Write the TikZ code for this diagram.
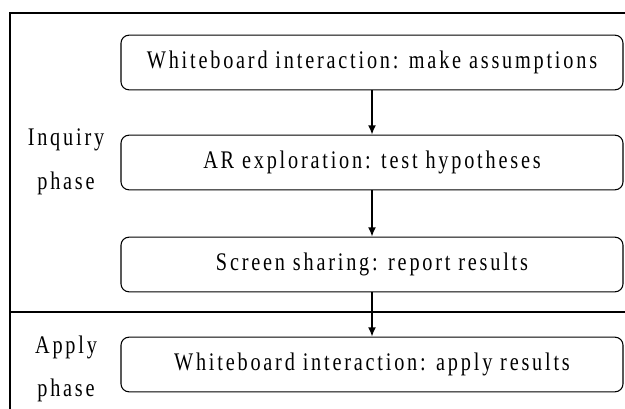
\documentclass[tikz,border=0pt]{standalone}
\usepackage{fontspec}
\setmainfont{Liberation Serif}[FakeStretch=0.8,LetterSpace=11]
\usepackage{tikz}
\usetikzlibrary{positioning,arrows.meta}

\tikzset{
    stage/.style={draw, line width=0.8pt, rounded corners=6pt, minimum width=376.5pt, minimum height=41pt, font=\fontsize{19}{21}\selectfont},
    phase/.style={font=\fontsize{19}{21}\selectfont},
}

\begin{document}
\begin{tikzpicture}[x=0.75pt,y=-0.75pt]
        \useasboundingbox (0,0) rectangle (625,409);
        % frame and divider
        \draw[line width=0.9pt] (625,13) -| (10,409);
        \draw[line width=0.9pt] (10,312) -- (625,312);

        \node[stage] (assume) at (372,62.5) {Whiteboard interaction: make assumptions};
        \node[stage] (explore) at (372,162.5) {AR exploration: test hypotheses};
        \node[stage] (report) at (372,264.5) {Screen sharing: report results};
        \node[stage] (apply) at (372,364.5) {Whiteboard interaction: apply results};

        \node[phase] (inq1) at (66,140) {Inquiry};
        \node[phase] (inq2) at (66,183) {phase};
        \node[phase] (app1) at (66,347) {Apply};
        \node[phase] (app2) at (66,390) {phase};

        \draw[line width=1.2pt, -{Latex[length=7pt,width=6pt]}] (assume) -- (explore);
        \draw[line width=1.2pt, -{Latex[length=7pt,width=6pt]}] (explore) -- (report);
        \draw[line width=1.2pt, -{Latex[length=7pt,width=6pt]}] (report) -- (apply);
    \end{tikzpicture}
\end{document}
